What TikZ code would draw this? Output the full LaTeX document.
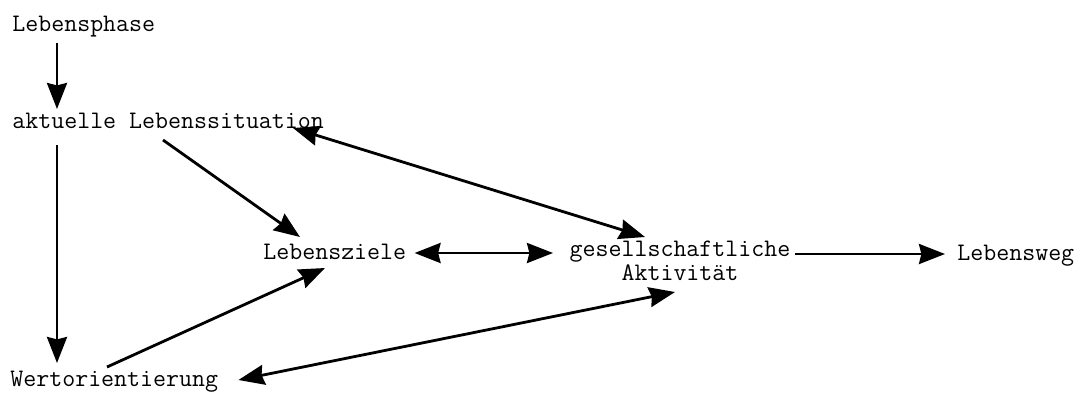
\documentclass[tikz,border=0pt]{standalone}
\usepackage{tikz}
\usetikzlibrary{arrows.meta,calc}

\begin{document}
\begin{tikzpicture}[x=0.5pt,y=-0.5pt,
	label/.style={inner sep=0pt, font=\ttfamily\fontsize{12.6}{10.5}\selectfont},
	arr/.style={line width=1.4pt, -{Stealth[length=13pt,width=10pt,inset=1.2pt]}},
	darr/.style={line width=1.4pt, {Stealth[length=13pt,width=10pt,inset=1.2pt]}-{Stealth[length=13pt,width=10pt,inset=1.2pt]}}]
	\useasboundingbox (0,0) rectangle (1077,392);
	\node[label, anchor=base west] (phase) at (12,31) {Lebensphase};
	\node[label, anchor=base west] (situ) at (12,128) {aktuelle Lebenssituation};
	\node[label, anchor=base west] (ziele) at (263,259) {Lebensziele};
	\node[label, anchor=base, align=center] (gesell) at (680,280) {gesellschaftliche\\Aktivität};
	\node[label, anchor=base west] (weg) at (957,260) {Lebensweg};
	\node[label, anchor=base west] (wert) at (10,386) {Wertorientierung};
	
	% Lebensphase
	\draw[arr] ($(phase.base west)+(45,12)$) -- ($(situ.base west)+(45,-19)$);
	% aktuelle Lebenssituation
	\draw[arr] ($(situ.base west)+(45,17)$) -- ($(wert.base west)+(47,-23)$);
	\draw[arr] ($(situ.base west)+(151,12)$) -- ($(ziele.base west)+(37,-22)$);
	\draw[darr] ($(situ.base west)+(281,0)$) -- ($(gesell.base)+(-35,-43)$);
	% Lebensziele
	\draw[darr] ($(ziele.base east)+(8,-6)$) -- ($(gesell.base)+(-127,-27)$);
	% Wertorientierung
	\draw[arr] ($(wert.base west)+(97,-19)$) -- ($(ziele.base west)+(62,9)$);
	\draw[darr] ($(wert.base east)+(20,-6)$) -- ($(gesell.base)+(-5,12)$);
	% gesellschaftliche Aktivitaet
	\draw[arr] ($(gesell.base)+(115,-26)$) -- ($(weg.base west)+(-12,-6)$);
\end{tikzpicture}
\end{document}
